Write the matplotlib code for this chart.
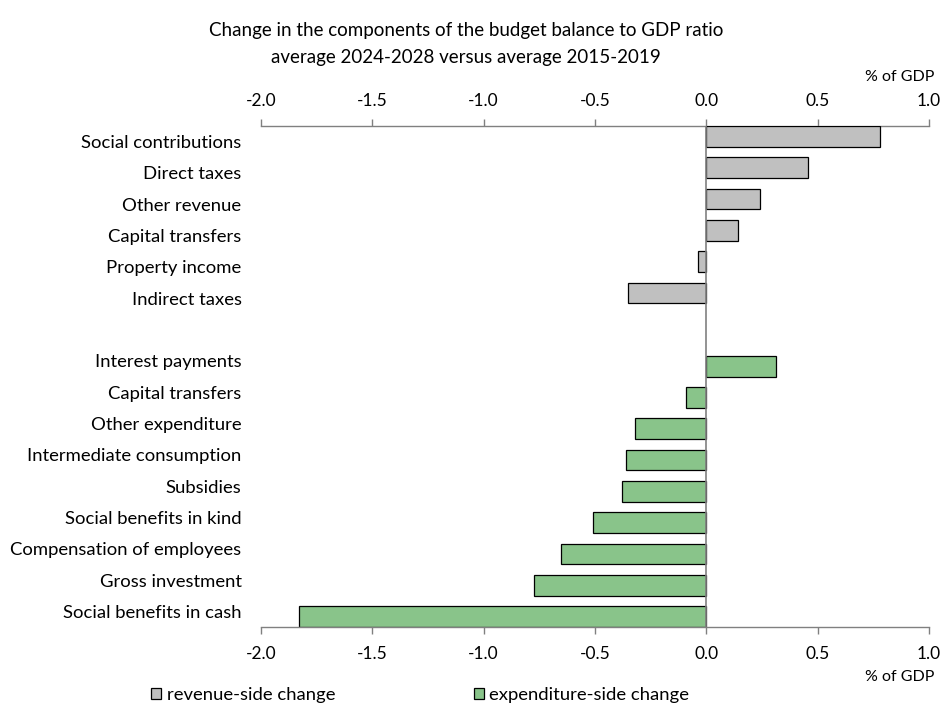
import matplotlib
matplotlib.use("Agg")
import matplotlib.pyplot as plt
import numpy as np

plt.rcParams['font.family'] = ['Lato', 'DejaVu Sans']

revenue_cats = ["Social contributions", "Direct taxes", "Other revenue",
                "Capital transfers", "Property income", "Indirect taxes"]
revenue_vals = [0.78, 0.457, 0.24, 0.144, -0.037, -0.35]

expend_cats = ["Interest payments", "Capital transfers", "Other expenditure",
               "Intermediate consumption", "Subsidies", "Social benefits in kind",
               "Compensation of employees", "Gross investment", "Social benefits in cash"]
expend_vals = [0.314, -0.093, -0.319, -0.362, -0.38, -0.51, -0.651, -0.775, -1.83]

xticks = [-2.0, -1.5, -1.0, -0.5, 0.0, 0.5, 1.0]
xtick_labels = ["-2.0", "-1.5", "-1.0", "-0.5", "0.0", "0.5", "1.0"]

title = "Change in the components of the budget balance to GDP ratio\naverage 2024-2028 versus average 2015-2019"
unit = "% of GDP"
legend_labels = ["revenue-side change", "expenditure-side change"]

W, H = 942, 704
fig = plt.figure(figsize=(W / 100, H / 100), dpi=100)
ax = fig.add_axes([261 / W, 1 - 627 / H, (929 - 261) / W, (627 - 126) / H])

h = 0.66
off = (1 - h) / 2
rev_pos = np.arange(len(revenue_cats))
exp_pos = np.arange(len(expend_cats)) + len(revenue_cats) + 1

b1 = ax.barh(rev_pos - off, revenue_vals, height=h, color="#C0C0C0", edgecolor="black", linewidth=0.9)
b2 = ax.barh(exp_pos + off, expend_vals, height=h, color="#89C48A", edgecolor="black", linewidth=0.9)

ax.axvline(0, color="#808080", linewidth=1.2, zorder=3)

n = len(revenue_cats) + 1 + len(expend_cats)
ax.set_ylim(n - 0.5, -0.5)
ax.set_xlim(-2.0, 1.0)

ax.set_yticks(list(rev_pos) + list(exp_pos))
ax.set_yticklabels(revenue_cats + expend_cats)
ax.tick_params(axis="y", length=0, pad=14, labelsize=13.3)

ax.set_xticks(xticks)
ax.set_xticklabels(xtick_labels)
ax.tick_params(axis="x", direction="out", length=5, width=1, color="#808080",
               labelsize=12.5, pad=9)

top = ax.secondary_xaxis("top")
top.set_xticks(xticks)
top.set_xticklabels(xtick_labels)
top.tick_params(axis="x", direction="out", length=5, width=1, color="#808080",
                labelsize=12.5, pad=7)
top.spines["top"].set_color("#808080")
top.spines["top"].set_linewidth(1)

for s in ["left", "right", "top"]:
    ax.spines[s].set_visible(False)
ax.spines["bottom"].set_color("#808080")
ax.spines["bottom"].set_linewidth(1)

fig.text(466 / W, 1 - 44 / H, title, ha="center", va="center", fontsize=13.5, linespacing=1.75)
fig.text(934 / W, 1 - 77 / H, unit, ha="right", va="center", fontsize=11.5)
fig.text(934 / W, 1 - 677 / H, unit, ha="right", va="center", fontsize=11.5)

fig.legend([b1, b2], legend_labels, ncol=2, loc="center left",
           bbox_to_anchor=(151 / W, 1 - 695 / H), frameon=False,
           handlelength=0.54, handleheight=0.54, handletextpad=0.3,
           columnspacing=7.5, fontsize=13.3, borderaxespad=0, borderpad=0)

fig.savefig("out.png", dpi=100)
